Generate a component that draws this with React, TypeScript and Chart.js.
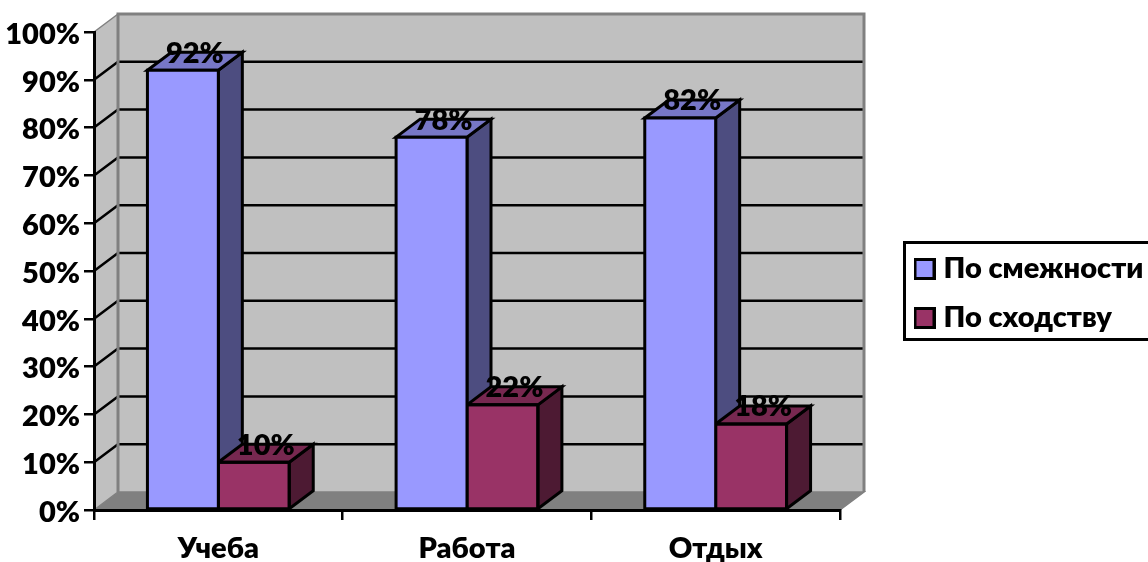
import React, { useEffect, useRef } from "react";
import { Chart, registerables } from "chart.js";

Chart.register(...registerables);

const categories = ["Учеба", "Работа", "Отдых"];
const seriesNames = ["По смежности", "По сходству"];
const adjacency = [92, 78, 82];
const similarity = [10, 22, 18];

const FONT = "Lato, 'Open Sans', sans-serif";
const DX = 24;
const DY = -18;
const fronts = ["#9999FF", "#993366"];
const tops = ["#7777C6", "#772850"];
const sides = ["#4D4D80", "#4D1A33"];
const WALL = "#C0C0C0";
const FLOOR = "#808080";
const EDGE = "#808080";

function poly(ctx: CanvasRenderingContext2D, pts: number[][], fill: string | null, stroke: string | null, lw = 3) {
  ctx.beginPath();
  pts.forEach((p, i) => (i ? ctx.lineTo(p[0], p[1]) : ctx.moveTo(p[0], p[1])));
  ctx.closePath();
  if (fill) {
    ctx.fillStyle = fill;
    ctx.fill();
  }
  if (stroke) {
    ctx.strokeStyle = stroke;
    ctx.lineWidth = lw;
    ctx.lineJoin = "miter";
    ctx.stroke();
  }
}

function swatch(color: string) {
  const c = document.createElement("canvas");
  c.width = 22;
  c.height = 22;
  const g = c.getContext("2d")!;
  g.fillStyle = color;
  g.fillRect(1.5, 1.5, 19, 19);
  g.strokeStyle = "#000";
  g.lineWidth = 3;
  g.strokeRect(1.5, 1.5, 19, 19);
  return c;
}

function drawDepth(ctx: CanvasRenderingContext2D, el: any, i: number) {
  const x0 = el.x - el.width / 2;
  const x1 = el.x + el.width / 2;
  const y0 = el.y;
  const y1 = el.base;
  poly(ctx, [[x1, y0], [x1 + DX, y0 + DY], [x1 + DX, y1 + DY], [x1, y1]], sides[i], "#000");
  poly(ctx, [[x0, y0], [x0 + DX, y0 + DY], [x1 + DX, y0 + DY], [x1, y0]], tops[i], "#000");
}

function drawOutline(ctx: CanvasRenderingContext2D, el: any) {
  const x0 = el.x - el.width / 2;
  const x1 = el.x + el.width / 2;
  poly(ctx, [[x0, el.y], [x1, el.y], [x1, el.base], [x0, el.base]], null, "#000");
}

const box3d = {
  id: "box3d",
  beforeDraw(chart: any) {
    const { ctx, chartArea: a, scales } = chart;
    const { left: l, right: r, top: t, bottom: b } = a;
    ctx.save();
    poly(ctx, [[l + DX, t + DY], [r + DX, t + DY], [r + DX, b + DY], [l + DX, b + DY]], WALL, null);
    poly(ctx, [[l, t], [l + DX, t + DY], [l + DX, b + DY], [l, b]], WALL, null);
    poly(ctx, [[l, b], [l + DX, b + DY], [r + DX, b + DY], [r, b]], FLOOR, null);
    ctx.lineCap = "butt";
    scales.y.ticks.forEach((tk: any) => {
      if (tk.value === 0 || tk.value === 100) return;
      const y = scales.y.getPixelForValue(tk.value);
      ctx.beginPath();
      ctx.moveTo(l, y);
      ctx.lineTo(l + DX, y + DY);
      ctx.lineTo(r + DX, y + DY);
      ctx.strokeStyle = "#000";
      ctx.lineWidth = 2.5;
      ctx.stroke();
    });
    ctx.strokeStyle = EDGE;
    ctx.lineWidth = 3;
    ctx.beginPath();
    ctx.moveTo(l + DX, b + DY);
    ctx.lineTo(l + DX, t + DY);
    ctx.lineTo(r + DX, t + DY);
    ctx.lineTo(r + DX, b + DY);
    ctx.stroke();
    ctx.lineWidth = 1.5;
    ctx.beginPath();
    ctx.moveTo(l, t);
    ctx.lineTo(l + DX, t + DY);
    ctx.moveTo(l, b);
    ctx.lineTo(l + DX, b + DY);
    ctx.lineTo(r + DX, b + DY);
    ctx.lineTo(r, b);
    ctx.stroke();
    ctx.restore();
  },
  beforeDatasetsDraw(chart: any) {
    // the first series sits behind the second: its depth faces go down first
    const { ctx } = chart;
    ctx.save();
    chart.getDatasetMeta(0).data.forEach((el: any) => drawDepth(ctx, el, 0));
    ctx.restore();
  },
  afterDatasetDraw(chart: any, args: any) {
    const { ctx } = chart;
    ctx.save();
    args.meta.data.forEach((el: any) => {
      if (args.index === 1) drawDepth(ctx, el, 1);
      drawOutline(ctx, el);
    });
    ctx.restore();
  },
  afterDatasetsDraw(chart: any) {
    const { ctx } = chart;
    ctx.save();
    ctx.font = `800 29px ${FONT}`;
    ctx.fillStyle = "#000";
    ctx.textAlign = "center";
    ctx.textBaseline = "middle";
    chart.data.datasets.forEach((ds: any, i: number) => {
      chart.getDatasetMeta(i).data.forEach((el: any, j: number) => {
        ctx.fillText(`${ds.data[j]}%`, el.x + DX / 2, el.y + DY + 1);
      });
    });
    ctx.restore();
  },
  afterLayout(chart: any) {
    const lg = chart.legend;
    const w = lg.width;
    lg.left = 900;
    lg.right = lg.left + w;
    lg.top = 234.5;
    lg.bottom = 420;
    lg.height = 185.5;
  },
  afterDraw(chart: any) {
    const { ctx } = chart;
    ctx.save();
    ctx.strokeStyle = "#000";
    ctx.lineWidth = 3;
    ctx.strokeRect(904.5, 242.5, 260, 97);
    ctx.restore();
  },
};

export default function App() {
  const ref = useRef<HTMLCanvasElement>(null);
  useEffect(() => {
    document.body.style.margin = "0";
    const chart = new Chart(ref.current!, {
      type: "bar",
      data: {
        labels: categories,
        datasets: [
          { label: seriesNames[0], data: adjacency, backgroundColor: fronts[0], borderWidth: 0 },
          { label: seriesNames[1], data: similarity, backgroundColor: fronts[1], borderWidth: 0 },
        ],
      },
      options: {
        responsive: false,
        animation: false,
        layout: { padding: { top: 32, right: 308, left: 0, bottom: 0 } },
        datasets: { bar: { categoryPercentage: 142 / 249, barPercentage: 1 } },
        scales: {
          x: {
            border: { display: true, color: "#000", width: 3 },
            grid: { drawOnChartArea: false, drawTicks: true, tickLength: 10, color: "#000", lineWidth: 2.5 },
            ticks: { color: "#000", font: { family: FONT, size: 29, weight: "800" }, padding: 11, maxRotation: 0 },
            afterFit(s: any) {
              s.height = 52;
            },
          },
          y: {
            min: 0,
            max: 100,
            border: { display: true, color: "#000", width: 3 },
            grid: { drawOnChartArea: false, drawTicks: true, tickLength: 10, color: "#000", lineWidth: 2.5 },
            ticks: {
              stepSize: 10,
              color: "#000",
              padding: 4,
              labelOffset: 2.5,
              font: { family: FONT, size: 29, weight: "800" },
              callback: (v: any) => `${v}%`,
            },
            afterFit(s: any) {
              s.width = 94;
            },
          },
        },
        plugins: {
          tooltip: { enabled: false },
          title: { display: false },
          legend: {
            position: "chartArea",
            align: "start",
            labels: {
              usePointStyle: true,
              pointStyleWidth: 9,
              boxHeight: 20,
              padding: 20,
              color: "#000",
              font: { family: FONT, size: 29, weight: "800", lineHeight: 1.2 },
              generateLabels: (c: any) =>
                c.data.datasets.map((d: any, i: number) => ({
                  text: d.label,
                  pointStyle: swatch(fronts[i]),
                  fillStyle: fronts[i],
                  strokeStyle: "#000",
                  lineWidth: 0,
                  datasetIndex: i,
                  hidden: false,
                })),
            },
          },
        },
      } as any,
      plugins: [box3d],
    });
    return () => chart.destroy();
  }, []);
  return (
    <div style={{ width: 1148, height: 562, overflow: "hidden" }}>
      <canvas ref={ref} width={1148} height={562} style={{ display: "block" }} />
    </div>
  );
}
